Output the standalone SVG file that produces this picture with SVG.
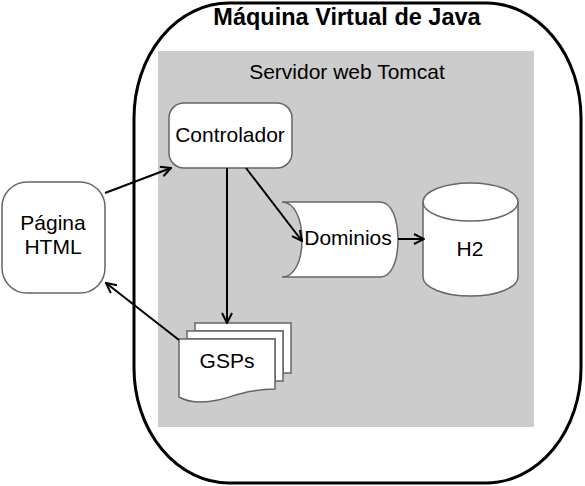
<svg xmlns="http://www.w3.org/2000/svg" width="585" height="486" viewBox="0 0 585 486">
<defs>
<style>
text{font-family:"Liberation Sans",Arial,sans-serif;fill:#000;text-anchor:middle}
.lbl{font-size:21px}
.shape{fill:#fff;stroke:#666;stroke-width:1.5}
.conn{fill:none;stroke:#000;stroke-width:2}
</style>
<marker id="arr" viewBox="0 0 12 12" refX="11" refY="6" markerWidth="12" markerHeight="12" markerUnits="userSpaceOnUse" orient="auto">
<path d="M1,1 L11,6 L1,11" fill="none" stroke="#000" stroke-width="2"/>
</marker>
</defs>
<rect width="585" height="486" fill="#fff"/>
<g id="jvm">
<rect x="134" y="3" width="447" height="480" rx="95" ry="115" fill="#fff" stroke="#000" stroke-width="3"/>
<text x="347" y="25" style="font-size:23.5px;font-weight:bold">Máquina Virtual de Java</text>
</g>
<g id="tomcat">
<rect x="158" y="51" width="376" height="376" fill="#cccccc"/>
<text x="347" y="79" class="lbl">Servidor web Tomcat</text>
</g>
<g id="pagina">
<rect x="2" y="182" width="103" height="111" rx="25" ry="25" class="shape"/>
<text x="53" y="230" class="lbl">Página</text>
<text x="53" y="254" class="lbl">HTML</text>
</g>
<g id="controlador">
<rect x="169" y="103" width="123" height="65" rx="15" ry="15" class="shape"/>
<text x="230" y="142" class="lbl">Controlador</text>
</g>
<g id="dominios">
<path d="M282,202 H380 C392,202 398,220 398,240 C398,260 392,277 380,277 H282 C295,277 302,260 302,240 C302,220 295,202 282,202 Z" class="shape"/>
<text x="348" y="245" class="lbl">Dominios</text>
</g>
<g id="h2">
<path d="M423,202 V277 A47.5,19 0 0 0 518,277 V202" class="shape"/>
<ellipse cx="470.5" cy="202" rx="47.5" ry="19" class="shape"/>
<text x="470" y="256" class="lbl">H2</text>
</g>
<g id="gsps">
<path d="M195,323 H291 V373 H283 V331 H195 Z" class="shape"/>
<path d="M187,331 H283 V381 H275 V339 H187 Z" class="shape"/>
<path d="M179,339 H275 V389 C250,389 235,396 218,400 C200,404 188,402 179,397 Z" class="shape"/>
<text x="227" y="368" class="lbl">GSPs</text>
</g>
<g id="connectors">
<line x1="105" y1="193" x2="171" y2="168" class="conn" marker-end="url(#arr)"/>
<line x1="227" y1="168" x2="227" y2="323" class="conn" marker-end="url(#arr)"/>
<line x1="246" y1="168" x2="302" y2="241" class="conn" marker-end="url(#arr)"/>
<line x1="398" y1="239" x2="424" y2="239" class="conn" marker-end="url(#arr)"/>
<line x1="179" y1="340" x2="106" y2="283" class="conn" marker-end="url(#arr)"/>
</g>
</svg>
